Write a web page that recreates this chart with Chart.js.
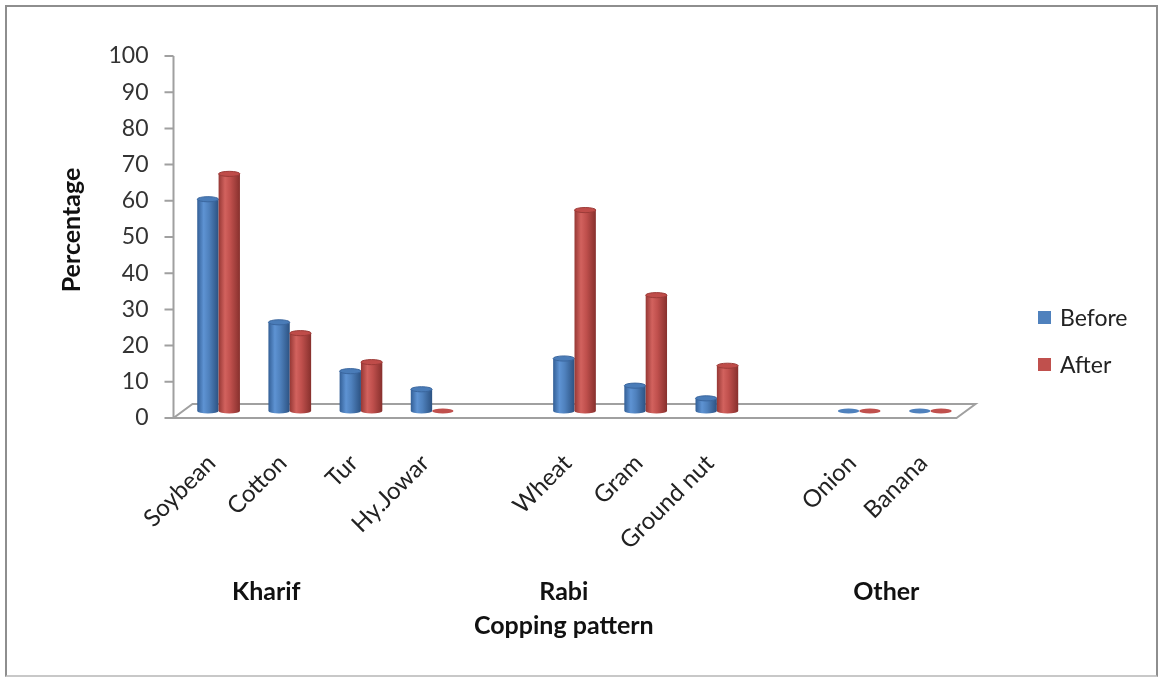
<!DOCTYPE html>
<html>
<head>
<meta charset="utf-8">
<script src="https://cdn.jsdelivr.net/npm/chart.js@4/dist/chart.umd.min.js"></script>
<style>
  html, body { margin: 0; padding: 0; background: #fff; }
  #wrap { position: relative; width: 1161px; height: 677px; font-family: Lato, sans-serif; }
  #frame { position: absolute; left: 5px; top: 5px; width: 1153px; height: 672px; border: 2px solid #8e8e8e; border-bottom-color: #c8c8c8; box-sizing: border-box; pointer-events: none; }
  #legend { position: absolute; left: 1038px; top: 303px; font-size: 23px; color: #222; }
  #legend div { display: flex; align-items: center; height: 28px; margin-bottom: 19px; }
  #legend span.box { width: 13px; height: 13px; margin-right: 9px; display: inline-block; }
</style>
</head>
<body>
<div id="wrap">
  <canvas id="chart" width="1161" height="677"></canvas>
  <div id="frame"></div>
  <div id="legend"></div>
</div>
<script>
// Cropping pattern: before / after, percentage of farmers
const categories = ["Soybean", "Cotton", "Tur", "Hy.Jowar", "", "Wheat", "Gram", "Ground nut", "", "Onion", "Banana"];
const beforeValues = [58.5, 24.5, 11, 6, null, 14.5, 7, 3.5, null, 0, 0];
const afterValues = [65.5, 21.5, 13.5, 0, null, 55.5, 32, 12.5, null, 0, 0];
const seriesNames = ["Before", "After"];
const yTicks = [0, 10, 20, 30, 40, 50, 60, 70, 80, 90, 100];
const groupNames = ["Kharif", "Rabi", "Other"];

// colours (Office 2007 palette) for the cylinder shading
const palette = [
  { base: "#4F81BD", dark: "#335F96", light: "#5E93D3", edge: "#2C5282", cap: "#4A7CB8", capEdge: "#3A669E" },
  { base: "#C0504D", dark: "#963835", light: "#D2625E", edge: "#87302D", cap: "#BF4C49", capEdge: "#9C3B38" },
];

// 3D depth offset of the floor (front plane vs. bar plane)
const DX = 9.5, DY = 7;
// where Excel put the group labels, as fractional category index
const groupAt = [0.67, 4.85, 9.38];

const FONT = "Lato, 'Open Sans', sans-serif";

const legend = document.getElementById("legend");
seriesNames.forEach((n, i) => {
  const row = document.createElement("div");
  row.innerHTML = `<span class="box" style="background:${palette[i].base}"></span>${n}`;
  legend.appendChild(row);
});

const cylinders = {
  id: "cylinders",
  beforeDatasetDraw() {
    return false; // bars drawn as cylinders below
  },
  beforeDatasetsDraw(chart) {
    const { ctx, chartArea } = chart;
    const y = chart.scales.y;
    const y0 = y.getPixelForValue(0);
    ctx.save();
    ctx.strokeStyle = "#a0a0a0";
    ctx.lineWidth = 2;
    // floor
    ctx.beginPath();
    ctx.moveTo(chartArea.left - DX, y0 + DY);
    ctx.lineTo(chartArea.right - DX, y0 + DY);
    ctx.lineTo(chartArea.right + DX, y0 - DY);
    ctx.lineTo(chartArea.left + DX, y0 - DY);
    ctx.closePath();
    ctx.stroke();
    // front vertical axis with ticks
    const ax = chartArea.left - DX;
    ctx.beginPath();
    ctx.moveTo(ax, y.getPixelForValue(100) + DY);
    ctx.lineTo(ax, y0 + DY);
    yTicks.forEach((t) => {
      const py = y.getPixelForValue(t) + DY;
      ctx.moveTo(ax - 9, py);
      ctx.lineTo(ax, py);
    });
    ctx.stroke();
    ctx.fillStyle = "#333";
    ctx.font = "23px " + FONT;
    ctx.textAlign = "right";
    ctx.textBaseline = "middle";
    yTicks.forEach((t) => {
      ctx.fillText(String(t), ax - 25, y.getPixelForValue(t) + DY);
    });
    ctx.restore();
  },
  afterDatasetsDraw(chart) {
    const { ctx } = chart;
    ctx.save();
    chart.data.datasets.forEach((ds, di) => {
      const meta = chart.getDatasetMeta(di);
      const c = palette[di];
      meta.data.forEach((el, i) => {
        if (ds.data[i] == null) return;
        const { x, y, base, width } = el.getProps(["x", "y", "base", "width"], true);
        const rx = width / 2, ry = Math.max(2.2, width * 0.12);
        const l = x - rx, r = x + rx;
        if (Math.abs(base - y) < 1) {
          ctx.beginPath();
          ctx.ellipse(x, base, rx, ry, 0, 0, Math.PI * 2);
          ctx.fillStyle = c.base;
          ctx.fill();
          return;
        }
        const g = ctx.createLinearGradient(l, 0, r, 0);
        g.addColorStop(0, c.dark);
        g.addColorStop(0.3, c.light);
        g.addColorStop(0.55, c.base);
        g.addColorStop(1, c.edge);
        ctx.beginPath();
        ctx.moveTo(l, y);
        ctx.lineTo(l, base);
        ctx.ellipse(x, base, rx, ry, 0, Math.PI, 0, true);
        ctx.lineTo(r, y);
        ctx.closePath();
        ctx.fillStyle = g;
        ctx.fill();
        ctx.beginPath();
        ctx.ellipse(x, y, rx, ry, 0, 0, Math.PI * 2);
        ctx.fillStyle = c.cap;
        ctx.fill();
        ctx.strokeStyle = c.capEdge;
        ctx.lineWidth = 1;
        ctx.stroke();
      });
    });
    ctx.restore();
  },
  afterDraw(chart) {
    const { ctx, chartArea } = chart;
    const xs = chart.scales.x;
    ctx.save();
    ctx.fillStyle = "#111";
    ctx.font = "bold 25px " + FONT;
    ctx.textAlign = "center";
    ctx.textBaseline = "middle";
    groupNames.forEach((g, i) => {
      ctx.fillText(g, xs.getPixelForValue(groupAt[i]), chartArea.bottom + 181);
    });
    // axis title sits under the middle group label
    ctx.fillText("Copping pattern", xs.getPixelForValue(groupAt[1]), chartArea.bottom + 215);
    ctx.restore();
  },
};

new Chart(document.getElementById("chart"), {
  type: "bar",
  data: {
    labels: categories,
    datasets: [
      { label: seriesNames[0], data: beforeValues, backgroundColor: palette[0].base },
      { label: seriesNames[1], data: afterValues, backgroundColor: palette[1].base },
    ],
  },
  options: {
    responsive: false,
    animation: false,
    layout: { padding: { left: 0, right: 195, top: 49, bottom: 0 } },
    datasets: { bar: { categoryPercentage: 0.6, barPercentage: 1.0 } },
    plugins: { legend: { display: false }, tooltip: { enabled: false } },
    scales: {
      x: {
        grid: { display: false, drawTicks: false },
        border: { display: false },
        ticks: {
          autoSkip: false,
          minRotation: 45,
          maxRotation: 45,
          padding: 38,
          labelOffset: -7,
          color: "#222",
          font: { family: FONT, size: 24 },
        },
        afterFit(scale) {
          scale.height = 266;
        },
      },
      y: {
        min: 0,
        max: 100,
        grid: { display: false },
        border: { display: false },
        ticks: { display: false, stepSize: 10 },
        title: {
          display: true,
          text: "Percentage",
          color: "#111",
          font: { family: FONT, size: 25, weight: "bold" },
          padding: { top: 57, bottom: 0 },
        },
        afterFit(scale) {
          scale.width = 183;
        },
      },
    },
  },
  plugins: [cylinders],
});
</script>
</body>
</html>
